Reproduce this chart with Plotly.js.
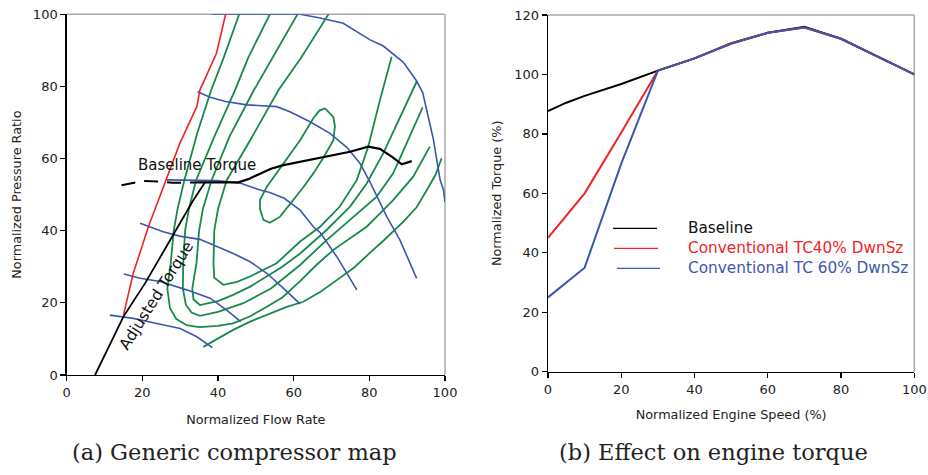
<!DOCTYPE html>
<html><head><meta charset="utf-8">
<script src="https://cdn.plot.ly/plotly-3.0.1.min.js"></script>
<style>html,body{margin:0;padding:0;background:#fff}#c{width:928px;height:475px}</style>
</head><body><div id="c"></div>
<script>
// ---------- (a) Generic compressor map ----------
// efficiency contours (green)
const eff1X = [69.2,62,56,49,42.3,40,39,38.8,39,41.4,45,48.5,55.5,61.7,67,72.2,76.7,79.7,82.8,85.9];
const eff1Y = [100,88,79,66,54,46,40,31,27,25,25.8,27.3,31,37,41.1,46.7,54.1,63.3,76.2,88.2];
const eff2X = [61,55,49.5,43,38.3,36,35,34.3,33.2,33.5,35.2,40,44,48.5,52.9,57,61.7,68.7,74.9,79.3,83.7,88.1,92.5];
const eff2Y = [100,89,79,66,54,46,40,31,24,21,19.4,20.5,22.2,24.5,27.3,30,33.7,40.2,46.7,53.1,61.5,71.6,81.3];
const eff3X = [53.7,48,44.5,39,34.2,32.3,31.3,30.8,30.7,31.5,33,35.2,40,46.7,54,61.7,68.7,74.9,81.9,86.3,89.9,94.1];
const eff3Y = [100,88,79,66,54,46,40,31,24,19.5,17.3,16.4,17.5,19.9,24,30.5,37.4,43,49.4,55.9,64.2,74.2];
const eff4X = [45.6,41.5,38.2,34.5,31.1,29.3,28.3,27.5,26.6,27.3,29,31.7,35,40,44,48.5,52.9,57,61.7,66,70.5,79.3,86.3,91.6,96];
const eff4Y = [100,88,79,67,54,46,40,31,24,18.5,15.5,13.8,13.3,13.6,14.3,16.3,18.9,21.5,26,30.5,34.7,41.1,48.5,55,63.3];
const eff5X = [36.1,40,44,48.5,53.7,58,62.5,67,71.4,76,80.5,84,89,92.5,95.2,97.5,99.1];
const eff5Y = [7.8,10.2,12.5,14.8,17.1,18.8,20.3,23,26.3,29.8,34.2,37.5,42.5,46.5,51.3,55.5,60.1];
const islandX = [68.3,70.5,70.9,70.5,68,65.2,62.5,59.9,56.4,53.7,52,51.1,51.1,52.9,57.3,61.7,65.2,66.8,68.3];
const islandY = [73.9,71.5,69,65.1,60.5,55.9,52,48.5,43.9,42.2,43,46,48.5,52.2,58.7,65.1,71.2,73.3,73.9];
// speed lines (blue)
const spd1X = [38.3,50,61.7,67,73.1,80.2,83.7,89,92.5,94.1,96.9,98.7,99.6,100];
const spd1Y = [100,100,100,99,97.5,92.9,91.2,86.7,81.5,78.3,65.5,54.1,51.3,48];
const spd2X = [34.6,37.9,42,47.6,55.5,59,64.3,69.6,74.2,77.5,80.2,84.6,88.1,92.5];
const spd2Y = [78.5,77,75.8,74.9,74.4,73,70.2,67,63,58.7,53.5,43.9,37.4,26.8];
const spd3X = [26.4,32,39.7,45.8,51.1,53.7,57.5,61.7,65.2,67,71.4,76.7];
const spd3Y = [54.1,54.1,53.9,53.2,51.3,50.6,49,45.7,41.1,39.5,32.8,23.6];
const spd4X = [19.4,25.5,29.9,35.2,39.7,44,48.5,52.9,57.3,61.7];
const spd4Y = [42.1,39.7,38.5,37.6,35.6,33.7,31.4,28.2,24,19.7];
const spd5X = [15.1,19.4,24.7,31.7,37.9,42.3,46];
const spd5Y = [28,26.8,25.9,23.6,21.3,18,14.8];
const spd6X = [11.4,17.6,23.8,30,34.4,38.5];
const spd6Y = [16.6,15.7,14.3,12.9,10.6,7.6];
// surge line (red)
const surgeX = [15,17.6,21.6,25.3,27.8,29.9,34.4,35.2,39.6,42];
const surgeY = [16.6,28.2,41.1,51.3,58.7,64.2,74.4,79,89.2,100];
// torque lines (black)
const baseDashX = [14.5,17,20.3,24.7,28,34.5];
const baseDashY = [52.6,53.2,53.8,53.6,53.3,53.4];
const baseSolidX = [34.5,45.4,48,51.1,54,57.3,61.7,66.1,70,74.9,79.7,82.8,86,88.6,91.2];
const baseSolidY = [53.4,53.4,54.3,55.9,57.2,58.2,59.1,60.1,60.8,61.9,63.3,62.7,60.5,58.4,59.3];
const adjX = [7.5,12,15,20.7,28,33.5,36.5];
const adjY = [0,9.5,16.2,25.4,38.5,48.5,53.3];
const mapTicks = [0,20,40,60,80,100];

// ---------- (b) Effect on engine torque ----------
const baseSpeed = [0,5,10,20,30,40,50,60,70,80,90,100];
const baseTorque = [87.7,90.5,92.8,96.8,101.3,105.4,110.5,114,116,112,106,100];
const dwn40Speed = [0,10,20,30,40,50,60,70,80,90,100];
const dwn40Torque = [45,60,80.5,101.3,105.4,110.4,114,115.8,112,106,100];
const dwn60Speed = [0,10,20,30,40,50,60,70,80,90,100];
const dwn60Torque = [25,35,70,101.3,105.4,110.3,114,115.8,112,106,100];
const speedTicks = [0,20,40,60,80,100];
const torqueTicks = [0,20,40,60,80,100,120];
const legendNames = ['Baseline','Conventional TC40% DwnSz','Conventional TC 60% DwnSz'];

const GREEN='#178a4b', BLUE='#3b57ae', RED='#ee2326', BLACK='#000000';
const F='DejaVu Sans, Verdana, sans-serif';

function ln(x,y,color,width,dash,xa,ya){
  return {x:x,y:y,type:'scatter',mode:'lines',xaxis:xa||'x',yaxis:ya||'y',
    line:{color:color,width:width,dash:dash||'solid'},hoverinfo:'skip',showlegend:false};
}
const traces = [
  ln(eff1X,eff1Y,GREEN,1.8), ln(eff2X,eff2Y,GREEN,1.8), ln(eff3X,eff3Y,GREEN,1.8),
  ln(eff4X,eff4Y,GREEN,1.8), ln(eff5X,eff5Y,GREEN,1.8), ln(islandX,islandY,GREEN,1.8),
  ln(spd1X,spd1Y,BLUE,1.6), ln(spd2X,spd2Y,BLUE,1.6), ln(spd3X,spd3Y,BLUE,1.6),
  ln(spd4X,spd4Y,BLUE,1.6), ln(spd5X,spd5Y,BLUE,1.6), ln(spd6X,spd6Y,BLUE,1.6),
  ln(surgeX,surgeY,RED,1.6),
  ln(baseDashX,baseDashY,BLACK,2,'14px,9px'), ln(baseSolidX,baseSolidY,BLACK,2.2),
  ln(adjX,adjY,BLACK,1.8),
  ln(baseSpeed,baseTorque,BLACK,2,null,'x2','y2'),
  ln(dwn40Speed,dwn40Torque,RED,2,null,'x2','y2'),
  ln(dwn60Speed,dwn60Torque,BLUE,2,null,'x2','y2')
];

function ax(dom,range,ticks,title,anchor,standoff){
  return {domain:dom,range:range,tickvals:ticks,ticktext:ticks.map(String),anchor:anchor,
    showline:true,linecolor:'#000',linewidth:1.4,ticks:'outside',ticklen:5,tickcolor:'#000',tickwidth:1.2,
    showgrid:false,zeroline:false,fixedrange:true,
    tickfont:{family:F,size:13,color:'#222'},
    title:{text:title,font:{family:F,size:12.8,color:'#222'},standoff:standoff}};
}
const W=928,H=475;
const px=v=>v/W, py=v=>(H-v)/H;
const layout = {
  width:W,height:H,margin:{l:0,r:0,t:0,b:0},paper_bgcolor:'#fff',plot_bgcolor:'#fff',showlegend:false,
  xaxis: ax([px(66.7),px(445)],[0,100],mapTicks,'Normalized Flow Rate','y',16),
  yaxis: ax([py(375),py(14.3)],[0,100],mapTicks,'Normalized Pressure Ratio','x',8),
  xaxis2: ax([px(548),px(914.3)],[0,100],speedTicks,'Normalized Engine Speed (%)','y2',14),
  yaxis2: ax([py(371.7),py(15)],[0,120],torqueTicks,'Normalized Torque (%)','x2',9),
  shapes: [
    {type:'line',xref:'x domain',yref:'y domain',x0:0,x1:1,y0:1,y1:1,line:{color:'#a8a8a8',width:1.5},layer:'below'},
    {type:'line',xref:'x domain',yref:'y domain',x0:1,x1:1,y0:0,y1:1,line:{color:'#a8a8a8',width:1.5},layer:'below'},
    {type:'line',xref:'x2 domain',yref:'y2 domain',x0:0,x1:1,y0:1,y1:1,line:{color:'#a8a8a8',width:1.5},layer:'below'},
    {type:'line',xref:'x2 domain',yref:'y2 domain',x0:1,x1:1,y0:0,y1:1,line:{color:'#a8a8a8',width:1.5},layer:'below'},
    {type:'line',xref:'paper',yref:'paper',x0:px(613),x1:px(657),y0:py(228.3),y1:py(228.3),line:{color:BLACK,width:1.3}},
    {type:'line',xref:'paper',yref:'paper',x0:px(614),x1:px(658),y0:py(248.3),y1:py(248.3),line:{color:RED,width:1.3}},
    {type:'line',xref:'paper',yref:'paper',x0:px(617),x1:px(660),y0:py(268.3),y1:py(268.3),line:{color:BLUE,width:1.3}}
  ],
  annotations: [
    {xref:'x',yref:'y',x:34.4,y:58.3,text:'Baseline Torque',showarrow:false,font:{family:F,size:15,color:'#111'}},
    {xref:'x',yref:'y',x:23.6,y:22.0,text:'Adjusted Torque',textangle:-57.8,showarrow:false,font:{family:F,size:15.5,color:'#111'}},
    {xref:'paper',yref:'paper',x:px(686),y:py(228.3),xanchor:'left',yanchor:'middle',text:legendNames[0],showarrow:false,font:{family:F,size:15.3,color:'#111'}},
    {xref:'paper',yref:'paper',x:px(686),y:py(248.3),xanchor:'left',yanchor:'middle',text:legendNames[1],showarrow:false,font:{family:F,size:15.3,color:RED}},
    {xref:'paper',yref:'paper',x:px(686),y:py(268.3),xanchor:'left',yanchor:'middle',text:legendNames[2],showarrow:false,font:{family:F,size:15.3,color:BLUE}},
    {xref:'paper',yref:'paper',x:px(234),y:py(452),xanchor:'center',yanchor:'middle',text:'(a) Generic compressor map',showarrow:false,font:{family:'DejaVu Serif, serif',size:22.5,color:'#222'}},
    {xref:'paper',yref:'paper',x:px(713),y:py(452),xanchor:'center',yanchor:'middle',text:'(b) Effect on engine torque',showarrow:false,font:{family:'DejaVu Serif, serif',size:22.5,color:'#222'}}
  ]
};
Plotly.newPlot('c',traces,layout,{staticPlot:true,displayModeBar:false});
</script></body></html>
